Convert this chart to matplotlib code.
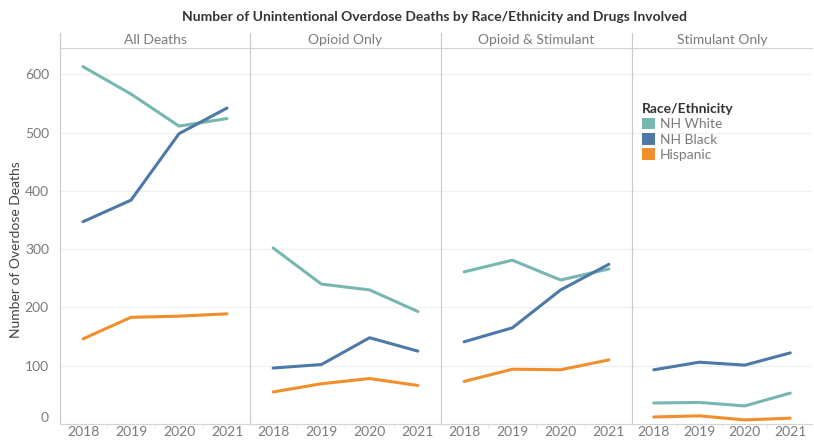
import matplotlib
matplotlib.use("Agg")
import matplotlib.pyplot as plt
from matplotlib.patches import Patch

plt.rcParams['font.family'] = ['Lato', 'DejaVu Sans']

years = [2018, 2019, 2020, 2021]
panels = ["All Deaths", "Opioid Only", "Opioid & Stimulant", "Stimulant Only"]
groups = ["NH White", "NH Black", "Hispanic"]
colors = ["#76b7b2", "#4e79a7", "#f28e2b"]

nh_white = [
    [613, 566, 511, 524],
    [302, 240, 230, 193],
    [261, 281, 247, 266],
    [36, 37, 31, 53],
]
nh_black = [
    [347, 384, 498, 542],
    [96, 102, 148, 125],
    [141, 165, 230, 274],
    [93, 106, 101, 122],
]
hispanic = [
    [146, 183, 185, 189],
    [55, 69, 78, 66],
    [73, 94, 93, 110],
    [12, 14, 7, 10],
]
series = [nh_white, nh_black, hispanic]
yticks = [0, 100, 200, 300, 400, 500, 600]

W, H = 814, 441
fig = plt.figure(figsize=(W / 100, H / 100), dpi=100)

edges = [60, 250, 441, 632, 812]
plot_top, plot_bot = 48, 424
head_top = 33
grid_c = "#efefef"
sep_c = "#c8c8c8"
txt_c = "#7a7a7a"

for i, name in enumerate(panels):
    x0, x1 = edges[i], edges[i + 1]
    ax = fig.add_axes([x0 / W, (H - plot_bot) / H, (x1 - x0) / W, (plot_bot - plot_top) / H])
    for s, c in zip(series, colors):
        ax.plot(years, s[i], color=c, lw=2.2, solid_capstyle='round')
    ax.set_xlim(2018 - 23 / 48, 2021 + 23 / 48)
    ax.set_ylim(0, 645)
    ax.set_yticks(yticks)
    ax.set_xticks(years)
    ax.set_xticks([2018.5, 2019.5, 2020.5], minor=True)
    ax.grid(axis='y', color=grid_c, lw=0.8)
    ax.set_axisbelow(True)
    for sp in ["top", "right"]:
        ax.spines[sp].set_visible(False)
    ax.spines["bottom"].set_color("#d4d4d4")
    ax.spines["left"].set_color(sep_c)
    ax.spines["left"].set_linewidth(0.8)
    ax.tick_params(axis='x', which='major', length=0, labelsize=10, labelcolor=txt_c, pad=1.5)
    ax.tick_params(axis='x', which='minor', length=3, color="#e0e0e0")
    if i == 0:
        ax.tick_params(axis='y', length=0, labelsize=10, labelcolor=txt_c, pad=8)
        lbls = ax.get_yticklabels()
        lbls[0].set_va('bottom')
    else:
        ax.tick_params(axis='y', length=0, labelleft=False)

    hax = fig.add_axes([x0 / W, (H - plot_top) / H, (x1 - x0) / W, (plot_top - head_top) / H])
    hax.set_xticks([]); hax.set_yticks([])
    for sp in ["top", "right"]:
        hax.spines[sp].set_visible(False)
    hax.spines["left"].set_color(sep_c)
    hax.spines["left"].set_linewidth(0.8)
    hax.spines["bottom"].set_color("#d4d4d4")
    hax.patch.set_alpha(0)
    hax.text(0.5, 0.5, name, ha='center', va='center', fontsize=10, color=txt_c,
             transform=hax.transAxes)

fig.text(16 / W, 1 - 250 / H, "Number of Overdose Deaths", rotation=90, ha='center', va='center',
         fontsize=10, color="#444444")

fig.text(435 / W, 1 - 17 / H, "Number of Unintentional Overdose Deaths by Race/Ethnicity and Drugs Involved",
         ha='center', va='center', fontsize=10, fontweight='bold', color="#333333")

handles = [Patch(facecolor=c, edgecolor='none') for c in colors]
leg = fig.legend(handles, groups, loc='upper left', bbox_to_anchor=(642 / W, 1 - 103 / H),
                 frameon=False, fontsize=10, title="Race/Ethnicity", title_fontsize=10,
                 handlelength=0.9, handleheight=0.9, handletextpad=0.4, labelspacing=0.2,
                 borderpad=0, borderaxespad=0, alignment='left')
leg.get_title().set_color("#333333")
leg.get_title().set_fontweight('bold')
for t in leg.get_texts():
    t.set_color(txt_c)

fig.savefig("out.png", dpi=100)
